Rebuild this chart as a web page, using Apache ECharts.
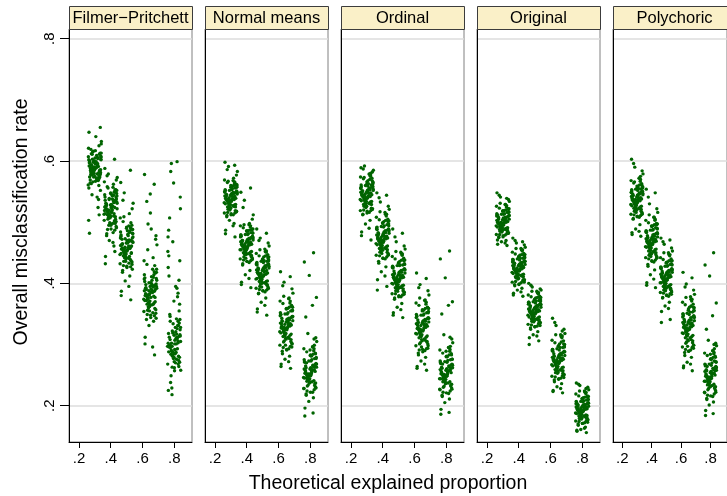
<!DOCTYPE html>
<html>
<head>
<meta charset="utf-8">
<script src="https://cdn.jsdelivr.net/npm/echarts@6/dist/echarts.min.js"></script>
<style>
  html, body { margin: 0; padding: 0; background: #fff; }
  #main { width: 727px; height: 496px; }
</style>
</head>
<body>
<div id="main"></div>
<script>
// facet titles and the x positions of the five groups
var panels = ["Filmer\u2212Pritchett", "Normal means", "Ordinal", "Original", "Polychoric"];
var xCenters = [0.3, 0.4, 0.5, 0.65, 0.8];
var tickValues = [0.2, 0.4, 0.6, 0.8];

// horizontal jitter, thousandths of x
var jitter = [-31, 12, 38, -7, 25, -40, 3, -18, 33, -26, 9, 41, -12, -35, 20, -2, 29, -22, 15, -38,
  6, 36, -15, -29, 23, 0, -9, 31, -42, 17, -20, 40, -4, 27, -33, 11, -13, 35, -25, 5,
  21, -37, -6, 39, 14, -28, 30, -17, 2, -39, 26, -10, 18, -23, 34, -1, -34, 8, 24, -14,
  -27, 16, -8, 37, -19, 4, 28, -36, 13, -3, 32, -24, 19, -41, 7, 25, -11, 36, -30, 1,
  22, -16, 40, -5, 10, -33, 29, -21, 14, -38, 34, -9, 3, -26, 18, -1, 38, -13, 24, -35];

// misclassification rate, thousandths, one list per group
var filmerPritchett = [
  [592, 571, 608, 583, 560, 621, 597, 545, 613, 578, 589, 632, 566, 601, 524, 587, 575, 612, 594, 556, 640, 581, 603, 569, 537, 598, 616, 585, 561, 606, 577, 628, 590, 512, 574, 609, 583, 552, 619, 596, 568, 647, 580, 602, 541, 588, 573, 611, 595, 503, 625, 579, 604, 563, 655, 586, 482, 599, 570, 615,
   585, 596, 574, 603, 588, 567, 611, 592, 579, 600, 583, 594, 571, 607, 589, 576, 598, 586, 564, 605, 591, 580, 613, 587, 572, 599, 584, 593, 569, 602, 578, 590, 617, 582, 595, 575, 606, 588, 581, 597],
  [531, 498, 552, 512, 487, 566, 524, 505, 541, 478, 519, 573, 495, 536, 461, 528, 509, 558, 483, 545, 516, 491, 579, 527, 502, 548, 470, 534, 513, 562, 488, 522, 497, 553, 444, 538, 507, 569, 481, 525, 514, 588, 499, 543, 467, 530, 505, 556, 489, 519, 452, 537, 510, 576, 493, 547, 432, 521, 603, 508,
   522, 535, 508, 547, 516, 529, 498, 541, 526, 511, 553, 519, 532, 503, 545, 524, 514, 538, 527, 495, 549, 518, 531, 507, 543, 521, 536, 512, 557, 525, 501, 539, 517, 528, 544, 509, 533, 520, 550, 514],
  [463, 441, 488, 452, 427, 507, 470, 436, 495, 418, 458, 531, 446, 479, 412, 466, 449, 501, 433, 484, 455, 423, 548, 472, 439, 492, 404, 461, 447, 514, 429, 476, 453, 499, 387, 468, 442, 522, 421, 486, 457, 565, 436, 481, 395, 464, 450, 509, 426, 474, 373, 459, 444, 536, 431, 490, 380, 467, 585, 448,
   458, 471, 443, 482, 452, 466, 437, 477, 461, 448, 489, 455, 469, 432, 480, 459, 446, 474, 463, 428, 486, 451, 467, 440, 478, 456, 470, 445, 494, 462, 435, 473, 453, 465, 483, 442, 468, 457, 491, 449],
  [392, 365, 418, 381, 347, 437, 401, 356, 472, 372, 389, 463, 360, 409, 338, 395, 377, 431, 352, 414, 386, 343, 497, 398, 368, 515, 331, 390, 374, 442, 349, 405, 383, 429, 312, 396, 362, 478, 341, 489, 379, 578, 355, 423, 296, 393, 370, 455, 344, 407, 283, 388, 366, 534, 351, 546, 301, 399, 562, 376,
   382, 396, 367, 408, 376, 391, 359, 403, 385, 371, 417, 379, 394, 354, 411, 387, 369, 399, 383, 348, 414, 374, 392, 362, 405, 380, 397, 366, 423, 388, 357, 401, 377, 390, 410, 364, 395, 381, 419, 372],
  [312, 287, 541, 334, 268, 452, 301, 596, 279, 346, 395, 258, 322, 487, 293, 371, 264, 583, 317, 426, 285, 341, 229, 507, 306, 272, 468, 355, 297, 392, 249, 328, 564, 281, 412, 310, 263, 437, 338, 291, 378, 225, 319, 522, 276, 349, 405, 302, 257, 476, 331, 288, 599, 238, 366, 315, 445, 270, 384, 218,
   298, 312, 283, 324, 291, 307, 274, 318, 301, 286, 335, 295, 310, 268, 328, 303, 281, 316, 299, 262, 331, 289, 305, 277, 321, 296, 313, 284, 342, 302, 271, 319, 292, 308, 326, 279, 314, 297, 338, 288]
];
var normalMeans = [
  [541, 527, 558, 534, 515, 569, 546, 521, 562, 509, 538, 583, 530, 552, 498, 544, 525, 565, 512, 549, 536, 518, 591, 543, 528, 560, 503, 539, 532, 572, 516, 548, 535, 556, 487, 542, 524, 577, 511, 553, 537, 598, 520, 561, 494, 545, 529, 567, 514, 550, 476, 540, 526, 586, 517, 557, 481, 547, 593, 533,
   538, 549, 526, 557, 533, 544, 519, 553, 540, 529, 562, 535, 547, 515, 559, 542, 527, 551, 537, 512, 564, 531, 546, 522, 555, 539, 548, 525, 568, 543, 517, 552, 534, 545, 560, 523, 550, 536, 566, 530],
  [466, 449, 482, 458, 437, 494, 471, 443, 488, 430, 462, 512, 453, 477, 421, 468, 446, 491, 434, 479, 460, 440, 536, 470, 451, 485, 414, 464, 455, 498, 438, 474, 459, 483, 402, 467, 447, 505, 432, 480, 463, 549, 441, 489, 408, 469, 452, 496, 436, 476, 393, 465, 448, 524, 439, 486, 398, 472, 556, 456,
   463, 474, 451, 483, 458, 469, 444, 479, 466, 454, 489, 460, 472, 440, 486, 467, 452, 477, 462, 436, 492, 456, 471, 447, 481, 464, 475, 450, 496, 468, 442, 480, 457, 470, 487, 448, 476, 461, 494, 455],
  [418, 401, 437, 410, 389, 449, 424, 395, 442, 383, 414, 461, 405, 430, 376, 421, 398, 445, 386, 433, 412, 392, 474, 425, 403, 440, 369, 417, 407, 452, 390, 428, 411, 436, 358, 419, 399, 466, 384, 434, 415, 489, 394, 443, 364, 422, 404, 455, 388, 431, 348, 416, 400, 470, 391, 439, 353, 426, 482, 408,
   417, 429, 404, 439, 411, 423, 397, 434, 420, 407, 447, 414, 426, 392, 443, 421, 405, 432, 416, 388, 451, 409, 425, 400, 437, 418, 430, 403, 456, 422, 394, 436, 412, 424, 445, 401, 431, 415, 453, 408],
  [334, 312, 356, 325, 297, 371, 341, 304, 363, 289, 329, 384, 318, 349, 281, 337, 308, 367, 293, 352, 327, 301, 402, 343, 315, 359, 276, 332, 321, 376, 295, 346, 326, 355, 268, 336, 306, 391, 285, 350, 330, 419, 299, 361, 272, 339, 317, 379, 291, 347, 261, 333, 310, 396, 296, 358, 264, 342, 411, 322,
   329, 343, 314, 355, 322, 337, 305, 349, 332, 318, 364, 326, 340, 299, 359, 334, 316, 346, 330, 292, 368, 320, 339, 310, 352, 327, 344, 313, 375, 335, 302, 350, 324, 338, 361, 309, 345, 328, 371, 319],
  [258, 239, 279, 249, 226, 293, 262, 232, 285, 219, 254, 305, 243, 271, 213, 260, 236, 288, 222, 275, 251, 229, 318, 265, 241, 282, 207, 256, 246, 297, 224, 268, 252, 277, 196, 259, 234, 311, 217, 273, 450, 435, 413, 377, 364, 345, 263, 244, 283, 228, 299, 250, 188, 270, 237, 291, 183, 257, 309, 242,
   254, 266, 241, 277, 248, 261, 233, 272, 257, 244, 286, 251, 264, 228, 281, 259, 242, 269, 255, 222, 290, 246, 263, 237, 275, 253, 267, 240, 296, 260, 230, 273, 249, 262, 284, 238, 268, 252, 293, 245]
];
var ordinal = [
  [547, 531, 563, 540, 519, 574, 552, 526, 568, 512, 543, 585, 535, 558, 503, 549, 529, 571, 516, 555, 541, 522, 592, 550, 533, 566, 497, 545, 537, 578, 520, 554, 539, 561, 484, 548, 528, 582, 513, 559, 542, 589, 524, 565, 490, 551, 534, 573, 518, 556, 471, 546, 530, 587, 521, 562, 478, 553, 580, 538,
   544, 556, 530, 566, 538, 550, 523, 561, 547, 534, 572, 541, 553, 519, 568, 548, 532, 559, 543, 515, 575, 536, 552, 527, 563, 545, 557, 529, 579, 549, 521, 560, 539, 551, 570, 526, 558, 542, 577, 535],
  [476, 458, 494, 467, 443, 508, 481, 451, 501, 436, 472, 521, 462, 488, 427, 478, 455, 504, 440, 491, 469, 447, 533, 483, 460, 498, 419, 474, 465, 513, 445, 486, 470, 496, 406, 477, 453, 526, 433, 492, 473, 548, 449, 502, 412, 479, 461, 517, 441, 489, 395, 475, 457, 540, 446, 499, 389, 484, 544, 464,
   473, 486, 458, 497, 466, 480, 451, 492, 476, 462, 505, 469, 483, 446, 501, 477, 460, 489, 472, 441, 510, 464, 482, 455, 494, 474, 487, 457, 516, 479, 449, 493, 467, 481, 503, 454, 488, 471, 513, 463],
  [412, 394, 431, 403, 381, 444, 418, 388, 437, 374, 408, 456, 398, 425, 367, 414, 391, 440, 378, 428, 405, 385, 468, 420, 396, 434, 361, 410, 400, 449, 383, 422, 406, 430, 352, 413, 392, 461, 376, 429, 409, 489, 387, 438, 357, 416, 397, 452, 380, 426, 344, 411, 393, 476, 382, 433, 348, 419, 482, 401,
   409, 421, 395, 432, 402, 415, 388, 427, 412, 398, 441, 405, 418, 383, 436, 413, 396, 424, 408, 378, 446, 400, 417, 391, 430, 410, 422, 393, 451, 414, 386, 429, 403, 416, 438, 392, 423, 407, 448, 399],
  [332, 309, 354, 322, 293, 368, 338, 301, 360, 286, 327, 381, 315, 346, 279, 335, 305, 364, 290, 349, 324, 298, 398, 340, 312, 357, 273, 330, 318, 373, 291, 343, 323, 352, 264, 333, 303, 388, 283, 348, 328, 417, 296, 359, 268, 336, 314, 376, 288, 344, 258, 331, 307, 393, 294, 355, 261, 339, 408, 320,
   328, 341, 313, 352, 320, 335, 304, 347, 331, 316, 361, 324, 338, 298, 356, 333, 314, 344, 327, 292, 366, 318, 337, 308, 350, 326, 342, 311, 372, 334, 301, 348, 322, 336, 359, 306, 343, 325, 369, 317],
  [256, 237, 276, 247, 224, 291, 260, 230, 283, 217, 252, 303, 241, 269, 211, 258, 234, 286, 220, 273, 249, 227, 316, 263, 239, 280, 205, 254, 244, 295, 222, 266, 250, 275, 194, 257, 232, 309, 215, 271, 453, 440, 409, 370, 364, 350, 261, 242, 281, 226, 297, 248, 189, 268, 235, 289, 186, 255, 312, 240,
   253, 265, 240, 276, 247, 260, 232, 271, 256, 243, 285, 250, 263, 227, 280, 258, 241, 268, 254, 221, 289, 245, 262, 236, 274, 252, 266, 239, 295, 259, 229, 272, 248, 261, 283, 237, 267, 251, 292, 244]
];
var original = [
  [502, 489, 517, 496, 481, 526, 507, 485, 521, 476, 499, 534, 492, 512, 470, 504, 487, 523, 479, 514, 497, 483, 541, 509, 490, 519, 468, 501, 494, 529, 480, 511, 498, 516, 464, 503, 486, 537, 475, 513, 500, 548, 484, 522, 466, 505, 491, 531, 478, 510, 462, 500, 488, 544, 482, 518, 471, 506, 539, 493,
   499, 508, 489, 516, 494, 504, 484, 512, 501, 491, 522, 497, 506, 480, 519, 502, 490, 510, 498, 476, 525, 493, 505, 486, 514, 500, 509, 488, 529, 503, 482, 513, 495, 507, 520, 487, 511, 496, 527, 492],
  [427, 413, 442, 420, 404, 451, 431, 409, 446, 398, 423, 459, 416, 437, 392, 429, 411, 448, 401, 439, 421, 406, 466, 433, 414, 444, 389, 426, 418, 455, 403, 436, 422, 441, 384, 428, 410, 463, 396, 438, 424, 474, 407, 447, 386, 430, 415, 457, 399, 435, 379, 425, 412, 470, 402, 443, 381, 432, 468, 417,
   424, 434, 412, 443, 419, 430, 406, 439, 427, 415, 449, 421, 432, 402, 446, 428, 413, 437, 423, 398, 453, 417, 431, 409, 441, 425, 435, 411, 457, 429, 404, 440, 420, 433, 447, 408, 436, 422, 455, 416],
  [357, 342, 371, 350, 334, 381, 361, 338, 376, 327, 353, 389, 346, 367, 321, 359, 340, 378, 330, 369, 351, 336, 394, 363, 344, 374, 316, 355, 348, 385, 332, 365, 352, 372, 311, 358, 339, 391, 325, 368, 354, 400, 337, 377, 314, 360, 345, 387, 329, 366, 306, 356, 341, 397, 331, 373, 300, 362, 383, 347,
   354, 364, 343, 373, 349, 359, 337, 369, 356, 346, 379, 351, 362, 333, 376, 357, 344, 367, 353, 329, 383, 347, 361, 340, 371, 355, 365, 342, 387, 358, 335, 370, 350, 363, 377, 339, 366, 352, 385, 345],
  [277, 259, 296, 270, 249, 307, 282, 254, 301, 242, 273, 318, 264, 289, 236, 279, 257, 303, 245, 292, 271, 251, 331, 285, 262, 298, 231, 276, 267, 313, 247, 288, 272, 295, 225, 278, 256, 325, 239, 291, 274, 343, 253, 300, 228, 281, 263, 316, 244, 290, 221, 275, 258, 336, 246, 297, 223, 284, 322, 268,
   274, 286, 261, 297, 268, 280, 253, 292, 277, 264, 306, 271, 283, 248, 301, 278, 262, 289, 273, 243, 311, 266, 282, 257, 295, 275, 287, 259, 316, 279, 250, 293, 269, 281, 304, 255, 288, 272, 314, 265],
  [196, 183, 210, 190, 175, 219, 200, 179, 214, 170, 193, 226, 186, 205, 165, 198, 181, 216, 172, 207, 191, 177, 233, 202, 185, 212, 161, 195, 188, 222, 174, 204, 192, 209, 158, 197, 180, 230, 168, 206, 194, 237, 178, 215, 163, 199, 184, 224, 171, 203, 156, 196, 182, 235, 173, 211, 160, 201, 228, 187,
   194, 202, 184, 210, 189, 198, 179, 206, 196, 186, 216, 191, 200, 175, 213, 197, 185, 204, 193, 171, 220, 188, 199, 181, 208, 195, 203, 183, 224, 198, 177, 207, 190, 201, 214, 180, 205, 192, 222, 187]
];
var polychoric = [
  [539, 523, 556, 532, 511, 568, 544, 518, 561, 505, 536, 579, 527, 551, 496, 541, 521, 564, 508, 548, 534, 514, 590, 546, 525, 559, 489, 538, 529, 572, 512, 547, 533, 554, 480, 540, 520, 584, 506, 552, 535, 603, 516, 558, 485, 543, 526, 566, 510, 549, 477, 537, 522, 596, 513, 555, 483, 545, 575, 530,
   537, 548, 525, 557, 531, 543, 518, 553, 539, 528, 563, 534, 546, 513, 559, 540, 526, 551, 536, 509, 567, 530, 545, 521, 555, 538, 549, 523, 572, 542, 516, 554, 532, 544, 561, 520, 550, 535, 570, 527],
  [471, 452, 489, 462, 438, 503, 476, 446, 496, 431, 467, 516, 457, 483, 422, 473, 450, 499, 435, 486, 464, 442, 530, 478, 455, 493, 414, 469, 460, 508, 440, 481, 465, 491, 401, 472, 448, 522, 428, 487, 468, 554, 444, 497, 407, 474, 456, 512, 436, 484, 393, 470, 451, 541, 441, 494, 397, 479, 548, 459,
   468, 480, 454, 490, 462, 474, 447, 485, 471, 458, 498, 465, 477, 442, 494, 472, 456, 482, 467, 437, 503, 460, 476, 450, 488, 469, 481, 453, 508, 473, 444, 487, 463, 475, 496, 448, 483, 466, 505, 459],
  [413, 395, 430, 404, 383, 442, 418, 389, 436, 376, 409, 453, 399, 424, 369, 415, 392, 439, 379, 427, 406, 386, 464, 420, 397, 433, 363, 411, 401, 447, 384, 422, 407, 431, 354, 414, 393, 458, 377, 428, 410, 474, 388, 437, 359, 417, 398, 450, 381, 425, 341, 412, 394, 468, 382, 434, 336, 419, 471, 402,
   410, 421, 397, 431, 404, 416, 390, 426, 413, 400, 440, 407, 419, 385, 435, 414, 398, 424, 409, 380, 445, 402, 418, 393, 429, 411, 422, 395, 450, 415, 388, 428, 405, 417, 437, 392, 423, 408, 447, 401],
  [333, 311, 355, 323, 295, 369, 339, 302, 361, 287, 328, 382, 316, 347, 279, 336, 306, 365, 291, 350, 325, 299, 399, 341, 313, 358, 271, 331, 319, 374, 292, 344, 324, 353, 265, 334, 304, 389, 282, 349, 329, 418, 297, 360, 268, 337, 315, 377, 289, 345, 257, 332, 308, 394, 294, 356, 262, 340, 409, 321,
   330, 344, 314, 356, 322, 337, 303, 350, 333, 317, 366, 326, 340, 296, 361, 335, 315, 347, 329, 289, 371, 320, 339, 308, 353, 328, 345, 311, 378, 336, 299, 351, 324, 338, 363, 306, 346, 327, 374, 318],
  [252, 233, 271, 243, 219, 286, 256, 226, 279, 212, 248, 298, 237, 265, 206, 254, 230, 282, 215, 268, 245, 222, 307, 259, 235, 276, 201, 250, 240, 290, 217, 262, 246, 273, 192, 253, 228, 302, 210, 266, 450, 430, 412, 368, 347, 325, 257, 238, 277, 221, 293, 244, 187, 264, 231, 284, 184, 251, 300, 236,
   249, 261, 236, 272, 243, 255, 228, 267, 252, 239, 281, 246, 259, 222, 276, 253, 237, 264, 250, 216, 285, 241, 258, 232, 270, 248, 262, 234, 290, 256, 225, 268, 244, 257, 279, 231, 263, 247, 287, 240]
];
var panelData = [filmerPritchett, normalMeans, ordinal, original, polychoric];

var FONT = "Liberation Sans, Arial, Helvetica, sans-serif";
var panelLeft = [69, 205, 341, 477, 613];
var panelWidth = 123;
var plotTop = 29;
var plotHeight = 413;

var dom = document.getElementById("main");
var myChart = echarts.init(dom, null, { renderer: "canvas" });

function fmt(v) {
  return v.toFixed(1).replace(/^0/, "");
}

var grids = [], xAxes = [], yAxes = [], series = [], graphics = [];

for (var p = 0; p < panels.length; p++) {
  grids.push({
    left: panelLeft[p],
    top: plotTop,
    width: panelWidth,
    height: plotHeight,
    show: true,
    borderColor: "#808080",
    borderWidth: 1,
    backgroundColor: "#fff",
  });
  xAxes.push({
    type: "value",
    gridIndex: p,
    min: 0.137,
    max: 0.912,
    axisLine: { show: true, onZero: false, lineStyle: { color: "#000", width: 1 } },
    axisTick: { show: true, length: 6, customValues: tickValues, lineStyle: { color: "#000" } },
    axisLabel: { customValues: tickValues, formatter: fmt, color: "#000", fontSize: 15, fontFamily: FONT, margin: 9 },
    splitLine: { show: false },
  });
  yAxes.push({
    type: "value",
    gridIndex: p,
    min: 0.1406,
    max: 0.8159,
    axisLine: { show: true, onZero: false, lineStyle: { color: "#000", width: 1 } },
    axisTick: { show: p === 0, length: 9, customValues: tickValues, lineStyle: { color: "#000" } },
    axisLabel: { show: p === 0, customValues: tickValues, formatter: fmt, rotate: 90, color: "#000", fontSize: 15, fontFamily: FONT, margin: 12 },
    splitLine: { show: true, lineStyle: { color: "#dcdcdc", width: 1.5 } },
  });

  var pts = [];
  for (var c = 0; c < xCenters.length; c++) {
    var ys = panelData[p][c];
    for (var i = 0; i < ys.length; i++) {
      pts.push([xCenters[c] + jitter[i % jitter.length] / 1000, ys[i] / 1000]);
    }
  }
  series.push({
    type: "scatter",
    xAxisIndex: p,
    yAxisIndex: p,
    data: pts,
    symbol: "circle",
    symbolSize: 3.4,
    itemStyle: { color: "#006400", opacity: 1 },
    silent: true,
  });

  // strip header
  graphics.push({
    type: "rect",
    shape: { x: panelLeft[p] + 0.5, y: 6.5, width: panelWidth, height: plotTop - 6 },
    style: { fill: "#faf0c8", stroke: "#3c3c3c", lineWidth: 1 },
    z: 10,
  });
  graphics.push({
    type: "text",
    x: panelLeft[p] + panelWidth / 2,
    y: 18,
    style: { text: panels[p], font: "16.5px " + FONT, fill: "#000", textAlign: "center", textVerticalAlign: "middle" },
    z: 11,
  });
}

graphics.push({
  type: "text",
  x: 22,
  y: 222,
  rotation: Math.PI / 2,
  style: { text: "Overall misclassification rate", font: "19.5px " + FONT, fill: "#000", textAlign: "center", textVerticalAlign: "middle" },
});
graphics.push({
  type: "text",
  x: 388,
  y: 484,
  style: { text: "Theoretical explained proportion", font: "19.5px " + FONT, fill: "#000", textAlign: "center", textVerticalAlign: "middle" },
});

var option = {
  backgroundColor: "#fff",
  animation: false,
  grid: grids,
  xAxis: xAxes,
  yAxis: yAxes,
  series: series,
  graphic: graphics,
};

myChart.setOption(option);
</script>
</body>
</html>
